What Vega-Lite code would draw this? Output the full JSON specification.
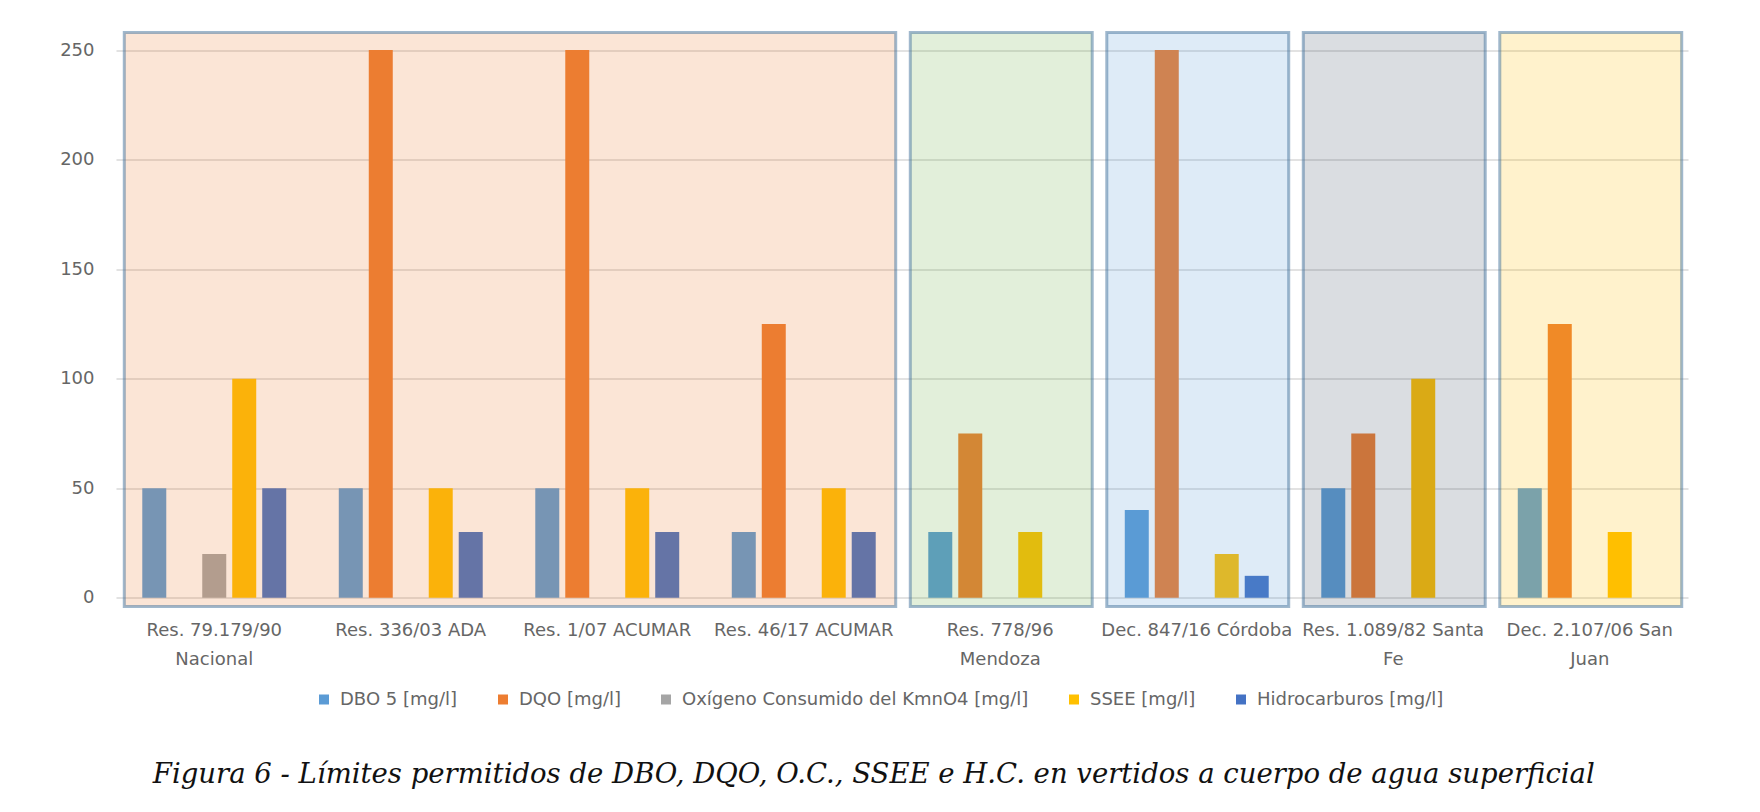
{
  "$schema": "https://vega.github.io/schema/vega-lite/v6.json",
  "width": 1572,
  "height": 574,
  "autosize": {"type": "none"},
  "padding": {"left": 116, "top": 32.5, "right": 72, "bottom": 205.5},
  "background": "white",
  "config": {
    "view": {"stroke": null},
    "font": "DejaVu Sans"
  },
  "title": {
    "text": "Figura 6 - Límites permitidos de DBO, DQO, O.C., SSEE e H.C. en vertidos a cuerpo de agua superficial",
    "orient": "bottom",
    "anchor": "middle",
    "frame": "bounds",
    "offset": 52,
    "font": "DejaVu Serif",
    "fontStyle": "italic",
    "fontWeight": "normal",
    "fontSize": 27.5,
    "color": "#111111"
  },
  "datasets": {
    "limites": [
      {"norma": "Res. 79.179/90 Nacional", "parametro": "DBO 5 [mg/l]", "valor": 50},
      {"norma": "Res. 79.179/90 Nacional", "parametro": "Oxígeno Consumido del KmnO4 [mg/l]", "valor": 20},
      {"norma": "Res. 79.179/90 Nacional", "parametro": "SSEE [mg/l]", "valor": 100},
      {"norma": "Res. 79.179/90 Nacional", "parametro": "Hidrocarburos [mg/l]", "valor": 50},
      {"norma": "Res. 336/03 ADA", "parametro": "DBO 5 [mg/l]", "valor": 50},
      {"norma": "Res. 336/03 ADA", "parametro": "DQO [mg/l]", "valor": 250},
      {"norma": "Res. 336/03 ADA", "parametro": "SSEE [mg/l]", "valor": 50},
      {"norma": "Res. 336/03 ADA", "parametro": "Hidrocarburos [mg/l]", "valor": 30},
      {"norma": "Res. 1/07 ACUMAR", "parametro": "DBO 5 [mg/l]", "valor": 50},
      {"norma": "Res. 1/07 ACUMAR", "parametro": "DQO [mg/l]", "valor": 250},
      {"norma": "Res. 1/07 ACUMAR", "parametro": "SSEE [mg/l]", "valor": 50},
      {"norma": "Res. 1/07 ACUMAR", "parametro": "Hidrocarburos [mg/l]", "valor": 30},
      {"norma": "Res. 46/17 ACUMAR", "parametro": "DBO 5 [mg/l]", "valor": 30},
      {"norma": "Res. 46/17 ACUMAR", "parametro": "DQO [mg/l]", "valor": 125},
      {"norma": "Res. 46/17 ACUMAR", "parametro": "SSEE [mg/l]", "valor": 50},
      {"norma": "Res. 46/17 ACUMAR", "parametro": "Hidrocarburos [mg/l]", "valor": 30},
      {"norma": "Res. 778/96 Mendoza", "parametro": "DBO 5 [mg/l]", "valor": 30},
      {"norma": "Res. 778/96 Mendoza", "parametro": "DQO [mg/l]", "valor": 75},
      {"norma": "Res. 778/96 Mendoza", "parametro": "SSEE [mg/l]", "valor": 30},
      {"norma": "Dec. 847/16 Córdoba", "parametro": "DBO 5 [mg/l]", "valor": 40},
      {"norma": "Dec. 847/16 Córdoba", "parametro": "DQO [mg/l]", "valor": 250},
      {"norma": "Dec. 847/16 Córdoba", "parametro": "SSEE [mg/l]", "valor": 20},
      {"norma": "Dec. 847/16 Córdoba", "parametro": "Hidrocarburos [mg/l]", "valor": 10},
      {"norma": "Res. 1.089/82 Santa Fe", "parametro": "DBO 5 [mg/l]", "valor": 50},
      {"norma": "Res. 1.089/82 Santa Fe", "parametro": "DQO [mg/l]", "valor": 75},
      {"norma": "Res. 1.089/82 Santa Fe", "parametro": "SSEE [mg/l]", "valor": 100},
      {"norma": "Dec. 2.107/06 San Juan", "parametro": "DBO 5 [mg/l]", "valor": 50},
      {"norma": "Dec. 2.107/06 San Juan", "parametro": "DQO [mg/l]", "valor": 125},
      {"norma": "Dec. 2.107/06 San Juan", "parametro": "SSEE [mg/l]", "valor": 30}
    ],
    "zonas": [
      {"zona": "Nación y ACUMAR", "desde": "Res. 79.179/90 Nacional", "hasta": "Res. 46/17 ACUMAR"},
      {"zona": "Mendoza", "desde": "Res. 778/96 Mendoza", "hasta": "Res. 778/96 Mendoza"},
      {"zona": "Córdoba", "desde": "Dec. 847/16 Córdoba", "hasta": "Dec. 847/16 Córdoba"},
      {"zona": "Santa Fe", "desde": "Res. 1.089/82 Santa Fe", "hasta": "Res. 1.089/82 Santa Fe"},
      {"zona": "San Juan", "desde": "Dec. 2.107/06 San Juan", "hasta": "Dec. 2.107/06 San Juan"}
    ]
  },
  "layer": [
    {
      "data": {"name": "limites"},
      "mark": {"type": "bar"},
      "encoding": {
        "x": {
          "field": "norma",
          "type": "nominal",
          "title": null,
          "scale": {
            "domain": ["Res. 79.179/90 Nacional", "Res. 336/03 ADA", "Res. 1/07 ACUMAR", "Res. 46/17 ACUMAR", "Res. 778/96 Mendoza", "Dec. 847/16 Córdoba", "Res. 1.089/82 Santa Fe", "Dec. 2.107/06 San Juan"],
            "paddingInner": 0.237,
            "paddingOuter": 0.1185
          },
          "axis": {
            "labelAngle": 0,
            "ticks": false,
            "domain": false,
            "labelPadding": 15,
            "labelFont": "DejaVu Sans",
            "labelFontSize": 18,
            "labelColor": "#666666",
            "labelLimit": 300,
            "labelLineHeight": 29,
            "labelExpr": "datum.value == 'Res. 79.179/90 Nacional' ? ['Res. 79.179/90', 'Nacional'] : datum.value == 'Res. 778/96 Mendoza' ? ['Res. 778/96', 'Mendoza'] : datum.value == 'Res. 1.089/82 Santa Fe' ? ['Res. 1.089/82 Santa', 'Fe'] : datum.value == 'Dec. 2.107/06 San Juan' ? ['Dec. 2.107/06 San', 'Juan'] : datum.label"
          }
        },
        "xOffset": {
          "field": "parametro",
          "type": "nominal",
          "scale": {
            "domain": ["DBO 5 [mg/l]", "DQO [mg/l]", "Oxígeno Consumido del KmnO4 [mg/l]", "SSEE [mg/l]", "Hidrocarburos [mg/l]"],
            "paddingInner": 0.2,
            "paddingOuter": 0.1
          }
        },
        "y": {
          "field": "valor",
          "type": "quantitative",
          "title": null,
          "scale": {"domain": [-4, 258], "nice": false, "zero": false},
          "axis": {
            "values": [0, 50, 100, 150, 200, 250],
            "ticks": false,
            "domain": false,
            "labelPadding": 22,
            "labelFont": "DejaVu Sans",
            "labelFontSize": 18,
            "labelColor": "#666666",
            "grid": true,
            "gridColor": "#e2e2e2",
            "gridWidth": 2
          }
        },
        "y2": {"datum": 0},
        "color": {
          "field": "parametro",
          "type": "nominal",
          "title": null,
          "scale": {
            "domain": ["DBO 5 [mg/l]", "DQO [mg/l]", "Oxígeno Consumido del KmnO4 [mg/l]", "SSEE [mg/l]", "Hidrocarburos [mg/l]"],
            "range": ["#5b9bd5", "#ed7d31", "#a5a5a5", "#ffc000", "#4472c4"]
          },
          "legend": {
            "orient": "none",
            "direction": "horizontal",
            "legendX": 199,
            "legendY": 658,
            "symbolType": "square",
            "symbolSize": 100,
            "symbolStrokeWidth": 0,
            "symbolOpacity": 1,
            "labelOffset": 7,
            "columnPadding": 36,
            "labelFont": "DejaVu Sans",
            "labelFontSize": 18,
            "labelColor": "#666666",
            "labelLimit": 400
          }
        }
      }
    },
    {
      "data": {"name": "zonas"},
      "mark": {
        "type": "rect",
        "fillOpacity": 0.2,
        "stroke": "#41719c",
        "strokeOpacity": 0.5,
        "strokeWidth": 3,
        "xOffset": -15,
        "x2Offset": 17
      },
      "encoding": {
        "x": {"field": "desde", "type": "nominal", "bandPosition": 0},
        "x2": {"field": "hasta", "bandPosition": 1},
        "y": {"datum": 258, "type": "quantitative"},
        "y2": {"datum": -4},
        "fill": {
          "field": "zona",
          "type": "nominal",
          "legend": null,
          "scale": {
            "domain": ["Nación y ACUMAR", "Mendoza", "Córdoba", "Santa Fe", "San Juan"],
            "range": ["#ed7d31", "#70ad47", "#5b9bd5", "#44546a", "#ffc000"]
          }
        }
      }
    }
  ],
  "resolve": {"scale": {"fill": "independent", "color": "independent"}}
}
